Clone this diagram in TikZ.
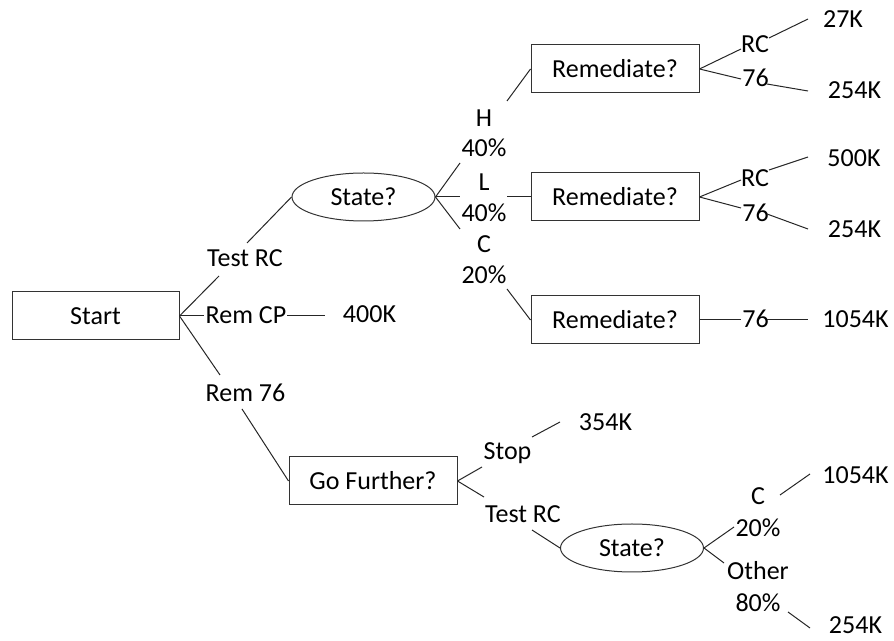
\documentclass[tikz,border=0pt]{standalone}
\usepackage{fontspec}
\setmainfont{Carlito}
\usetikzlibrary{shapes.geometric}
\begin{document}
\begin{tikzpicture}[x=0.75pt,y=-0.75pt,
  every node/.style={font=\fontsize{19.5pt}{23pt}\selectfont},
  box/.style={draw=black!80, line width=0.75pt, minimum width=126pt, minimum height=36pt, inner sep=0pt, text height=12.3pt, text depth=0pt},
  oval/.style={draw=black!80, ellipse, line width=0.75pt, minimum width=107.25pt, minimum height=36pt, inner sep=0pt, text height=12.3pt, text depth=0pt},
  lbl/.style={anchor=base, inner sep=0pt},
  conn/.style={line width=0.75pt, draw=black!85}]
\useasboundingbox (0,0) rectangle (894,641);

% decision / chance nodes
\node[box, minimum width=125.25pt] (start) at (95.5,316) {Start};
\node[oval] (st1) at (363.5,197) {State?};
\node[box] (r1) at (615,69) {Remediate?};
\node[box] (r2) at (615,197) {Remediate?};
\node[box] (r3) at (615,320) {Remediate?};
\node[box] (gf) at (373,481) {Go Further?};
\node[oval] (st2) at (632,548) {State?};

% labels
\node[lbl] (trc1) at (245,267) {Test RC};
\node[lbl] (remcp) at (246,324) {Rem CP};
\node[lbl] (rem76) at (245.5,402) {Rem 76};
\node[lbl] (v400) at (369.5,323) {400K};
\node[lbl] (h) at (484,127) {H};
\node[lbl] (ph) at (484,157) {40\%};
\node[lbl] (l) at (484,191) {L};
\node[lbl] (pl) at (484,222) {40\%};
\node[lbl] (c) at (484,253) {C};
\node[lbl] (pc) at (484,284) {20\%};
\node[lbl] (rc1) at (755,53) {RC};
\node[lbl] (s1) at (755.5,87) {76};
\node[lbl] (v27) at (843,28) {27K};
\node[lbl] (v254a) at (854.5,99) {254K};
\node[lbl] (rc2) at (755,187) {RC};
\node[lbl] (s2) at (755.5,222) {76};
\node[lbl] (v500) at (854,167) {500K};
\node[lbl] (v254b) at (854.5,238) {254K};
\node[lbl] (s3) at (755.5,328) {76};
\node[lbl] (v1054a) at (855.5,328) {1054K};
\node[lbl] (stop) at (507.5,460) {Stop};
\node[lbl] (v354) at (605.5,431) {354K};
\node[lbl] (trc2) at (523,523) {Test RC};
\node[lbl] (c2) at (758,505) {C};
\node[lbl] (pc2) at (758,537) {20\%};
\node[lbl] (other) at (758,580) {Other};
\node[lbl] (po) at (758,612) {80\%};
\node[lbl] (v1054b) at (855.5,484) {1054K};
\node[lbl] (v254c) at (855.5,634) {254K};

% connector end points
\coordinate (ta) at (219,276);
\coordinate (tb) at (247,243);
\coordinate (cpa) at (204,316);
\coordinate (cpb) at (287,316);
\coordinate (cpc) at (325,316);
\coordinate (ra) at (220,375);
\coordinate (rb) at (242,409);
\coordinate (ha) at (460,163);
\coordinate (hb) at (507,101);
\coordinate (la) at (460,197);
\coordinate (lb) at (507,197);
\coordinate (ca) at (460,229);
\coordinate (cb) at (507,289);
\coordinate (e1a) at (741,49);
\coordinate (e1b) at (769,38);
\coordinate (e1c) at (808,19);
\coordinate (e2a) at (741,79);
\coordinate (e2b) at (767,84);
\coordinate (e2c) at (808,91);
\coordinate (e3a) at (741,180);
\coordinate (e3b) at (769,170);
\coordinate (e3c) at (808,157);
\coordinate (e4a) at (741,208);
\coordinate (e4b) at (767,214);
\coordinate (e4c) at (808,229);
\coordinate (e5a) at (741,320);
\coordinate (e5b) at (767,320);
\coordinate (e5c) at (808,320);
\coordinate (sa) at (482,467);
\coordinate (sb) at (532,437);
\coordinate (sc) at (560,422);
\coordinate (ga) at (484,497);
\coordinate (gb) at (532,530);
\coordinate (oa) at (734,527);
\coordinate (ob) at (780,495);
\coordinate (oc) at (810,474);
\coordinate (pa) at (724,563);
\coordinate (pb) at (788,612);
\coordinate (pcc) at (810,628);

% connectors
\draw[conn] (start.east) -- (ta);
\draw[conn] (tb) -- (st1.west);
\draw[conn] (start.east) -- (cpa);
\draw[conn] (cpb) -- (cpc);
\draw[conn] (start.east) -- (ra);
\draw[conn] (rb) -- (gf.west);
\draw[conn] (st1.east) -- (ha);
\draw[conn] (hb) -- (r1.west);
\draw[conn] (st1.east) -- (la);
\draw[conn] (lb) -- (r2.west);
\draw[conn] (st1.east) -- (ca);
\draw[conn] (cb) -- (r3.west);
\draw[conn] (r1.east) -- (e1a);
\draw[conn] (e1b) -- (e1c);
\draw[conn] (r1.east) -- (e2a);
\draw[conn] (e2b) -- (e2c);
\draw[conn] (r2.east) -- (e3a);
\draw[conn] (e3b) -- (e3c);
\draw[conn] (r2.east) -- (e4a);
\draw[conn] (e4b) -- (e4c);
\draw[conn] (r3.east) -- (e5a);
\draw[conn] (e5b) -- (e5c);
\draw[conn] (gf.east) -- (sa);
\draw[conn] (sb) -- (sc);
\draw[conn] (gf.east) -- (ga);
\draw[conn] (gb) -- (st2.west);
\draw[conn] (st2.east) -- (oa);
\draw[conn] (ob) -- (oc);
\draw[conn] (st2.east) -- (pa);
\draw[conn] (pb) -- (pcc);
\end{tikzpicture}
\end{document}
